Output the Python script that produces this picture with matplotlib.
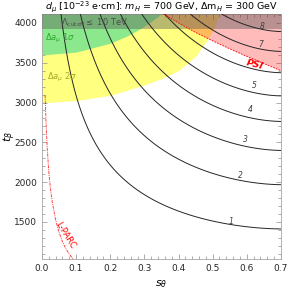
import numpy as np
import matplotlib
matplotlib.use('Agg')
import matplotlib.pyplot as plt

# contour levels of d_mu [1e-23 e cm]
levels = [1, 2, 3, 4, 5, 6, 7, 8]
T0SQ = 1.16e5
SCALE = 1.878e6

# contour labels and their positions (s, t)
label_txt = ['1', '2', '3', '4', '5', '7', '8']
label_s = [0.555, 0.58, 0.597, 0.61, 0.623, 0.64, 0.645]
label_t = [1500, 2080, 2540, 2910, 3220, 3735, 3955]

# region boundaries
green_s = [0.0, 0.1, 0.2, 0.25, 0.29, 0.32, 0.35]
green_t = [3598, 3633, 3745, 3837, 3932, 4017, 4117]
yellow_s = [0.0, 0.1, 0.2, 0.3, 0.35, 0.4, 0.45, 0.48, 0.5, 0.52]
yellow_t = [2995, 3025, 3090, 3220, 3300, 3400, 3580, 3760, 3900, 4113]
psi_s = [0.355, 0.40, 0.45, 0.50, 0.55, 0.60, 0.65, 0.70]
psi_t = [4113, 4000, 3880, 3775, 3675, 3580, 3490, 3400]
lparc_s = [0.0095, 0.012, 0.015, 0.02, 0.025, 0.03, 0.04, 0.05, 0.06, 0.07, 0.08, 0.092]
lparc_t = [3090, 2760, 2470, 2140, 1920, 1760, 1530, 1370, 1255, 1165, 1095, 1035]
cutoff_t = 3920

xmin, xmax = 0.0, 0.7
ymin, ymax = 1035, 4113

fig = plt.figure(figsize=(2.87, 2.90), dpi=100)
ax = fig.add_axes([0.146, 0.107, 0.833, 0.845])

# shaded regions
ax.fill_between(yellow_s, yellow_t, ymax, color='#ffff80', lw=0, zorder=1)
ax.fill_between(green_s, green_t, ymax, color='#8ce88c', lw=0, zorder=2)
ax.fill_between(psi_s, psi_t, ymax, color='red', alpha=0.27, lw=0, zorder=3)
ax.axhspan(cutoff_t, ymax, color='0.35', alpha=0.42, lw=0, zorder=4)
ax.plot(psi_s, psi_t, color='red', ls=(0, (2, 1.5)), lw=0.6, zorder=6)

# d_mu contours
s = np.linspace(0.001, 0.7, 300)
t = np.linspace(ymin, ymax, 300)
S, T = np.meshgrid(s, t)
D = 2 * S * np.sqrt(1 - S**2) * (T**2 - T0SQ) / SCALE
ax.contour(S, T, D, levels=levels, colors='0.15', linewidths=0.7, zorder=5)
for txt, xs, yt in zip(label_txt, label_s, label_t):
    ax.text(xs, yt, txt, fontsize=5.5, color='0.25', style='italic',
            ha='center', va='center', zorder=7)

# L-PARC
ax.plot(lparc_s, lparc_t, color='red', ls=(0, (3, 1, 1, 1)), lw=0.7, alpha=0.75, zorder=6)
ax.text(0.068, 1330, 'L-PARC', color='red', fontsize=6.2, rotation=-58,
        ha='center', va='center', zorder=7)
ax.text(0.624, 3470, 'PSI', color='red', fontsize=6.8, fontweight='bold', style='italic',
        rotation=-14, ha='center', va='center', zorder=7)

ax.text(0.154, 4000, r'$\Lambda_{\rm cutoff}\leq$ 10 TeV', color='0.3', fontsize=6,
        ha='center', va='center', zorder=7)
ax.text(0.008, 3810, r'$\Delta a_\mu\ 1\sigma$', color='#2ea82e', fontsize=6,
        ha='left', va='center', zorder=7)
ax.text(0.016, 3310, r'$\Delta a_\mu\ 2\sigma$', color='#a8a82a', fontsize=6,
        ha='left', va='center', zorder=7)

ax.set_xlim(xmin, xmax)
ax.set_ylim(ymin, ymax)
ax.set_xticks(np.arange(0, 0.71, 0.1))
ax.set_xticks(np.arange(0, 0.701, 0.02), minor=True)
ax.set_yticks([1500, 2000, 2500, 3000, 3500, 4000])
ax.set_yticks(np.arange(1100, 4101, 100), minor=True)
ax.xaxis.set_major_formatter(matplotlib.ticker.FormatStrFormatter('%.1f'))
ax.tick_params(which='both', direction='in', top=True, right=True, colors='0.55',
               labelcolor='0.15', labelsize=6.5, width=0.5)
ax.tick_params(which='major', length=3.5)
ax.tick_params(which='minor', length=2)
for sp in ax.spines.values():
    sp.set_color('0.65')
    sp.set_linewidth(0.6)

ax.set_xlabel(r'$s_\theta$', fontsize=8)
ax.set_ylabel(r'$t_\beta$', fontsize=8)
ax.xaxis.set_label_coords(0.5, -0.08)
ax.yaxis.set_label_coords(-0.1, 0.5)
ax.set_title(r'$d_\mu$ [10$^{-23}$ e$\cdot$cm]: $m_H$ = 700 GeV, $\Delta$m$_H$ = 300 GeV',
             fontsize=6.8, pad=2)

fig.savefig('out.png', dpi=100)
